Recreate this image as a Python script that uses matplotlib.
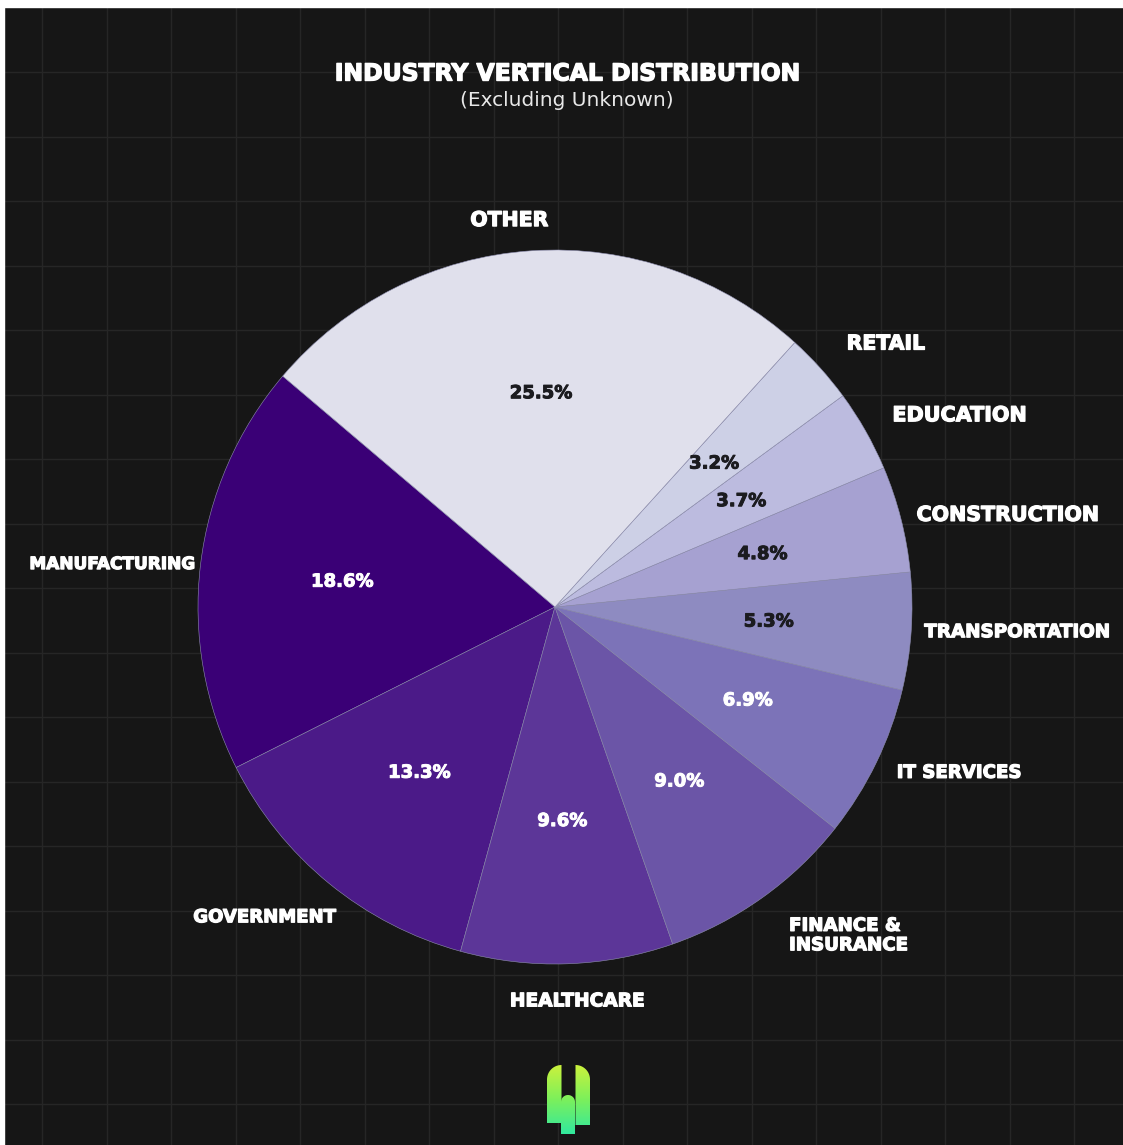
import numpy as np
import matplotlib
matplotlib.use("Agg")
import matplotlib.pyplot as plt
from matplotlib.path import Path
from matplotlib.patches import PathPatch, Rectangle
from matplotlib.colors import LinearSegmentedColormap
import matplotlib.patheffects as pe

# ---------------- data ----------------
categories = ["MANUFACTURING", "GOVERNMENT", "HEALTHCARE", "FINANCE &\nINSURANCE",
              "IT SERVICES", "TRANSPORTATION", "CONSTRUCTION", "EDUCATION",
              "RETAIL", "OTHER"]
shares = [18.6, 13.3, 9.6, 9.0, 6.9, 5.3, 4.8, 3.7, 3.2, 25.5]

title = "INDUSTRY VERTICAL DISTRIBUTION"
subtitle = "(Excluding Unknown)"

# ---------------- styles ----------------
colors = ["#3a0076", "#4b1a88", "#5c3698", "#6b55a7", "#7c73b8",
          "#8e8bc1", "#a6a1d1", "#bcbbdf", "#cdd0e6", "#e0e0ec"]
pct_colors = ["white"] * 5 + ["#1b1b1f"] * 5
label_dist = [1.018, 1.065, 1.105, 1.13, 1.064, 1.037, 1.045, 1.087, 1.10, 1.09]
label_nudge = [0, 4, 1.3, 0, 0, 0, 0, 0, 0, 3]
label_ha = ["right", "right", "center", "left", "left", "left", "left", "left", "left", "center"]
label_size = [12.2, 13.0, 13.4, 13.1, 13.1, 13.2, 14.8, 14.9, 14.7, 14.7]

W, H = 1123, 1145
BG = "#161616"
fig = plt.figure(figsize=(W / 100, H / 100), dpi=100, facecolor=BG)

def heavy(color, lw=0.9):
    return [pe.withStroke(linewidth=lw, foreground=color)]

# background / decoration axes in pixel coordinates
bg = fig.add_axes([0, 0, 1, 1])
bg.axis("off")
bg.set_facecolor(BG)
for k in range(18):
    x = 42 + 64.5 * k
    bg.plot([x, x], [0, H], color="#262626", lw=1.0, zorder=1)
for k in range(18):
    y = 72 + 64.5 * k
    bg.plot([0, W], [y, y], color="#262626", lw=1.0, zorder=1)
bg.add_patch(Rectangle((0, 0), W, 7, color="white", zorder=5))
bg.add_patch(Rectangle((0, 0), 4, H, color="white", zorder=5))

# title
bg.text(567, 74, title, color="white", fontsize=16.9, fontweight="bold",
        ha="center", va="center", family="DejaVu Sans", zorder=6,
        path_effects=heavy("white", 1.0))
bg.text(567, 101, subtitle, color="#e8e8e8", fontsize=14.5,
        ha="center", va="center", family="DejaVu Sans", zorder=6)

# logo (gradient bars)
grad = np.linspace(0, 1, 256).reshape(-1, 1)
lcm = LinearSegmentedColormap.from_list("lg", ["#d2f23a", "#7ef05a", "#2fe8a0"])

def bar_path(x0, x1, ytop, ybot, side):
    w = x1 - x0
    t = np.linspace(0, np.pi / 2, 20)
    if side == "left":
        cx, cy = x1, ytop + w
        arc = [(cx - w * np.cos(a), cy - w * np.sin(a)) for a in t]
        verts = [(x0, ybot)] + arc + [(x1, ybot), (x0, ybot)]
    elif side == "right":
        cx, cy = x0, ytop + w
        arc = [(cx + w * np.sin(a), cy - w * np.cos(a)) for a in t]
        verts = [(x0, ybot), (x0, ytop)] + arc + [(x1, ybot), (x0, ybot)]
    else:
        r = w / 2
        cx, cy = x0 + r, ytop + r
        tt = np.linspace(np.pi, 0, 30)
        arc = [(cx + r * np.cos(a), cy - r * np.sin(a)) for a in tt]
        verts = [(x0, ybot)] + arc + [(x1, ybot), (x0, ybot)]
    return Path(verts, closed=True)

for (x0, x1, yt, yb, side) in [(547, 561.5, 1065, 1123, "left"),
                               (575.5, 590, 1065, 1125, "right"),
                               (561, 575, 1095, 1134, "mid")]:
    p = PathPatch(bar_path(x0, x1, yt, yb, side), facecolor="none", edgecolor="none")
    bg.add_patch(p)
    im = bg.imshow(grad, cmap=lcm, extent=(540, 595, 1135, 1062), aspect="auto",
                   zorder=4, interpolation="bilinear")
    im.set_clip_path(p)
bg.set_xlim(0, W)
bg.set_ylim(H, 0)

# pie axes: center (555, 607), radius 357 px
cx, cy, R = 555, 607, 357
ax = fig.add_axes([(cx - R) / W, (H - cy - R) / H, 2 * R / W, 2 * R / H])
ax.set_facecolor("none")
wedges, _, autotexts = ax.pie(shares, colors=colors, startangle=139.7, counterclock=True,
                              autopct="%.1f%%", pctdistance=0.6,
                              wedgeprops=dict(linewidth=0.4, edgecolor="#8f8fb0"),
                              textprops=dict(fontsize=13, fontweight="bold"))
for t, c in zip(autotexts, pct_colors):
    t.set_color(c)
    t.set_family("DejaVu Sans")
    t.set_path_effects(heavy(c, 0.7))
ax.set_xlim(-1, 1)
ax.set_ylim(-1, 1)
ax.set_aspect("auto")

for w, lab, d, nud, ha, fs in zip(wedges, categories, label_dist, label_nudge, label_ha, label_size):
    ang = np.deg2rad((w.theta1 + w.theta2) / 2 + nud)
    ax.text(d * np.cos(ang), d * np.sin(ang), lab, ha=ha, va="center",
            color="white", fontsize=fs, fontweight="bold", family="DejaVu Sans",
            linespacing=1.1, clip_on=False, path_effects=heavy("white", 0.9))

fig.savefig("out.png", dpi=100, facecolor=BG)
